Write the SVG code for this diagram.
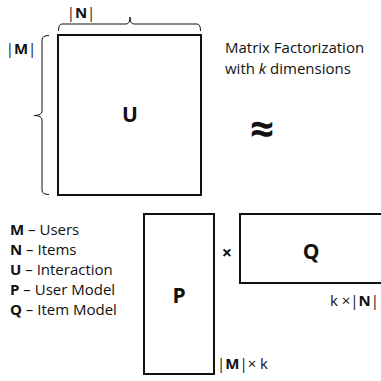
<svg xmlns="http://www.w3.org/2000/svg" width="381" height="381" viewBox="0 0 381 381">
<style>
.t{font-family:"Open Sans","Liberation Sans",sans-serif;font-size:15px;fill:#111}
.b{font-weight:bold}
.big{font-size:21px}
.box{fill:#fff;stroke:#111;stroke-width:2}
.br{fill:none;stroke:#111;stroke-width:1}
</style>
<rect width="381" height="381" fill="#fff"/>
<g id="braces">
<path class="br" d="M58.5,31 Q58.5,24 62,24 L126,24 Q130,24 130,17 Q130,24 134,24 L197,24 Q200.5,24 200.5,31"/>
<path class="br" d="M49,35.5 Q42,35.5 42,40 L42,111 Q42,115.5 34,115.5 Q42,115.5 42,120 L42,190 Q42,194.5 49,194.5"/>
</g>
<text class="t" x="81" y="18" text-anchor="middle">|<tspan class="b">N</tspan>|</text>
<text class="t" x="21" y="54" text-anchor="middle">|<tspan class="b">M</tspan>|</text>
<g id="U"><rect class="box" x="58" y="35" width="143" height="160"/><text class="t b big" x="130" y="122" text-anchor="middle">U</text></g>
<text class="t" x="225" y="53">Matrix Factorization</text>
<text class="t" x="225" y="74">with <tspan font-style="italic">k</tspan> dimensions</text>
<text class="t b" x="262" y="144" style="font-size:42px" text-anchor="middle">≈</text>
<g id="legend">
<text class="t" x="10" y="235"><tspan class="b">M</tspan> – Users</text>
<text class="t" x="10" y="255"><tspan class="b">N</tspan> – Items</text>
<text class="t" x="10" y="275"><tspan class="b">U</tspan> – Interaction</text>
<text class="t" x="10" y="295"><tspan class="b">P</tspan> – User Model</text>
<text class="t" x="10" y="315"><tspan class="b">Q</tspan> – Item Model</text>
</g>
<g id="P"><rect class="box" x="144" y="214" width="70" height="160"/><text class="t b big" x="179" y="303" text-anchor="middle">P</text></g>
<text class="t b" x="227" y="259" style="font-size:18px" text-anchor="middle">×</text>
<g id="Q"><rect class="box" x="240" y="214" width="150" height="69"/><text class="t b big" x="311" y="259" text-anchor="middle">Q</text></g>
<text class="t" x="330" y="306">k ×|<tspan class="b">N</tspan>|</text>
<text class="t" x="217" y="369">|<tspan class="b">M</tspan>|× k</text>
</svg>
